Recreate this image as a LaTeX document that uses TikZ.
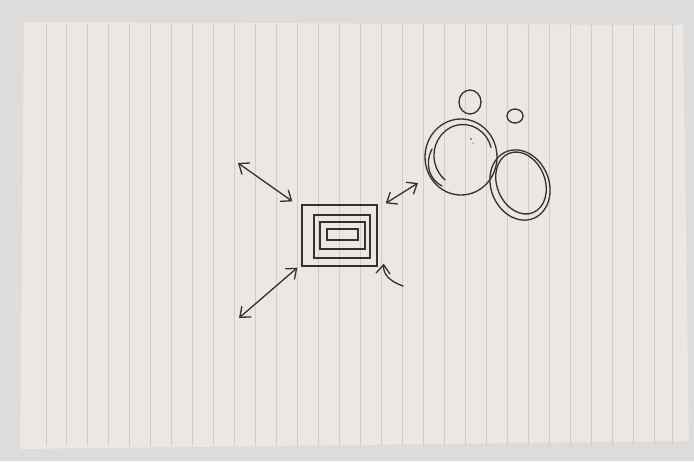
\documentclass[tikz,border=0pt]{standalone}
\usepackage{tikz}
\usetikzlibrary{arrows.meta,positioning,calc}
\definecolor{desk}{HTML}{DEDCDA}
\definecolor{paper}{HTML}{EAE7E5}
\definecolor{rule}{HTML}{D0CCC9}
\definecolor{ink}{HTML}{363131}

\begin{document}
\begin{tikzpicture}[x=0.02cm, y=-0.02cm,
  box/.style={draw=ink, line width=0.8pt, minimum width=#1, inner sep=0pt},
  pen/.style={draw=ink, line width=0.75pt, line cap=round},
  arr/.style={pen, {Straight Barb[length=5pt,width=8pt]}-{Straight Barb[length=5pt,width=8pt]}},
  arrone/.style={pen, -{Straight Barb[length=5pt,width=8pt]}}
]
  \useasboundingbox (0,0) rectangle (694,461);
  % Desk and paper
  \fill[desk] (0,0) rectangle (694,461);
  \fill[paper] (24,22) -- (683,25) -- (689,441) -- (20,449) -- cycle;
  \foreach \x in {46,66,87,108,129,150,171,192,213,234,255,276,297,318,339,360,381,402,423,444,465,486,507,528,549,570,591,612,633,654,672}
    \draw[rule, line width=0.4pt] (\x,24) -- (\x,446);

  % Nested boxes
  \node[box=1.5cm, minimum height=1.22cm] (core) at (339.5,235.5) {};
  \node[box=1.12cm, minimum height=0.86cm] (ring) at (342,236.5) {};
  \node[box=0.9cm, minimum height=0.54cm] (inner) at (342.5,235.5) {};
  \node[box=0.62cm, minimum height=0.22cm] (slot) at (342.5,234.5) {};

  % Arrow ends
  \coordinate (nw) at (238,163);
  \coordinate (ne) at (418,183);
  \coordinate (sw) at (239,318);
  \coordinate (se) at (403,286);
  \coordinate (nwtip) at ($(core.north west)+(-9,-3)$);
  \coordinate (netip) at ($(core.north east)+(8,-1)$);
  \coordinate (swtip) at ($(core.south west)+(-4,1)$);
  \coordinate (setip) at ($(core.south east)+(6,-3)$);

  \draw[arr] (nw) -- (nwtip);
  \draw[arr] (ne) -- (netip);
  \draw[arr] (sw) -- (swtip);
  \draw[arrone] (se) .. controls (389,281) and (383,274) .. (setip);

  % Bubbles
  \draw[pen] (470,102) ellipse [x radius=11, y radius=12];
  \draw[pen] (515,116) ellipse [x radius=8, y radius=7];
  \draw[pen] (461,157) ellipse [x radius=36, y radius=38];
  \draw[pen] (463,155) ++(-15:29) arc [start angle=-15, end angle=-232, x radius=29, y radius=31];
  \draw[pen] (432,149) .. controls (424,165) and (430,180) .. (442,186);
  \fill[ink] (471,139) circle (0.9);
  \fill[ink] (473,143) circle (0.7);
  \draw[pen, rotate around={22:(520,185)}] (520,185) ellipse [x radius=29, y radius=36];
  \draw[pen, rotate around={22:(521,183)}] (521,183) ellipse [x radius=24, y radius=32];
\end{tikzpicture}
\end{document}
